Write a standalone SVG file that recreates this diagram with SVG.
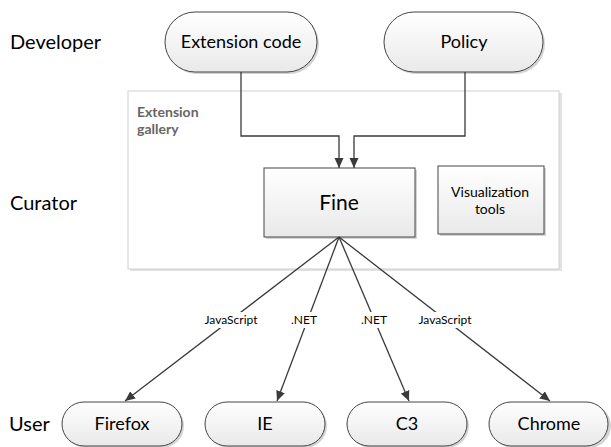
<svg xmlns="http://www.w3.org/2000/svg" width="611" height="447" viewBox="0 0 611 447">
<defs>
<linearGradient id="g" x1="0" y1="0" x2="0" y2="1">
<stop offset="0" stop-color="#ffffff"/>
<stop offset="1" stop-color="#e9e9e9"/>
</linearGradient>
<marker id="ah" markerWidth="10" markerHeight="10" viewBox="0 0 10 10" refX="10" refY="5" orient="auto" markerUnits="userSpaceOnUse">
<path d="M0,0.5 L10,5 L0,9.5 Z" fill="#3a3a3a"/>
</marker>
</defs>
<style>
text{font-family:Lato,"Open Sans","Liberation Sans",sans-serif;fill:#000}
.lane{font-size:20px}
.node{fill:url(#g);stroke:#444;stroke-width:1}
.shadow{fill:#d4d4d4}
.nt{font-size:18px;text-anchor:middle}
.el{font-size:12px;text-anchor:middle}
.conn{fill:none;stroke:#3a3a3a;stroke-width:1.3;marker-end:url(#ah)}
</style>
<rect width="611" height="447" fill="#fff"/>

<g id="lanes">
<text class="lane" x="10" y="49">Developer</text>
<text class="lane" x="10" y="210">Curator</text>
<text class="lane" x="9" y="431">User</text>
</g>

<g id="gallery">
<rect x="130" y="93" width="432" height="178" fill="#e2e2e2"/>
<rect x="128" y="91" width="431" height="178" fill="#fff" stroke="#cfcfcf" stroke-width="1"/>
<text x="137" y="117" style="font-size:14px;font-weight:bold;fill:#666">Extension</text>
<text x="137" y="134" style="font-size:14px;font-weight:bold;fill:#666">gallery</text>
</g>

<g id="extension-code">
<rect class="shadow" x="167" y="14" width="152" height="60" rx="30"/>
<rect class="node" x="165" y="12" width="152" height="60" rx="30"/>
<text class="nt" x="241" y="48">Extension code</text>
</g>

<g id="policy">
<rect class="shadow" x="386" y="14" width="159" height="60" rx="30"/>
<rect class="node" x="384" y="12" width="159" height="60" rx="30"/>
<text class="nt" x="464" y="48">Policy</text>
</g>

<g id="fine">
<rect class="shadow" x="266" y="170" width="151" height="69"/>
<rect class="node" x="264" y="168" width="151" height="69"/>
<text x="339" y="210" style="font-size:21px;text-anchor:middle">Fine</text>
</g>

<g id="visualization-tools">
<rect class="shadow" x="440" y="168" width="106" height="68"/>
<rect class="node" x="438" y="166" width="106" height="68"/>
<text x="490" y="197" style="font-size:14px;text-anchor:middle">Visualization</text>
<text x="490" y="214" style="font-size:14px;text-anchor:middle">tools</text>
</g>

<g id="firefox">
<rect class="shadow" x="64" y="404" width="120" height="44" rx="22"/>
<rect class="node" x="62" y="402" width="120" height="44" rx="22"/>
<text class="nt" x="122" y="430">Firefox</text>
</g>
<g id="ie">
<rect class="shadow" x="207" y="404" width="120" height="44" rx="22"/>
<rect class="node" x="205" y="402" width="120" height="44" rx="22"/>
<text class="nt" x="265" y="430">IE</text>
</g>
<g id="c3">
<rect class="shadow" x="349" y="404" width="120" height="44" rx="22"/>
<rect class="node" x="347" y="402" width="120" height="44" rx="22"/>
<text class="nt" x="407" y="430">C3</text>
</g>
<g id="chrome">
<rect class="shadow" x="491" y="404" width="120" height="44" rx="22"/>
<rect class="node" x="489" y="402" width="119" height="44" rx="22"/>
<text class="nt" x="549" y="430">Chrome</text>
</g>

<g id="connectors">
<path class="conn" d="M241,72 V136 H339 V168"/>
<path class="conn" d="M465,72 V136 H354 V168"/>
<path class="conn" d="M339,237 L125,401"/>
<path class="conn" d="M339,237 L277,401"/>
<path class="conn" d="M339,237 L409,401"/>
<path class="conn" d="M339,237 L550,401"/>
<rect x="201" y="312" width="60" height="16" fill="#fff"/>
<text class="el" x="231" y="324">JavaScript</text>
<rect x="289" y="312" width="30" height="16" fill="#fff"/>
<text class="el" x="304" y="324">.NET</text>
<rect x="359" y="312" width="30" height="16" fill="#fff"/>
<text class="el" x="374" y="324">.NET</text>
<rect x="415" y="312" width="60" height="16" fill="#fff"/>
<text class="el" x="445" y="324">JavaScript</text>
</g>
</svg>
